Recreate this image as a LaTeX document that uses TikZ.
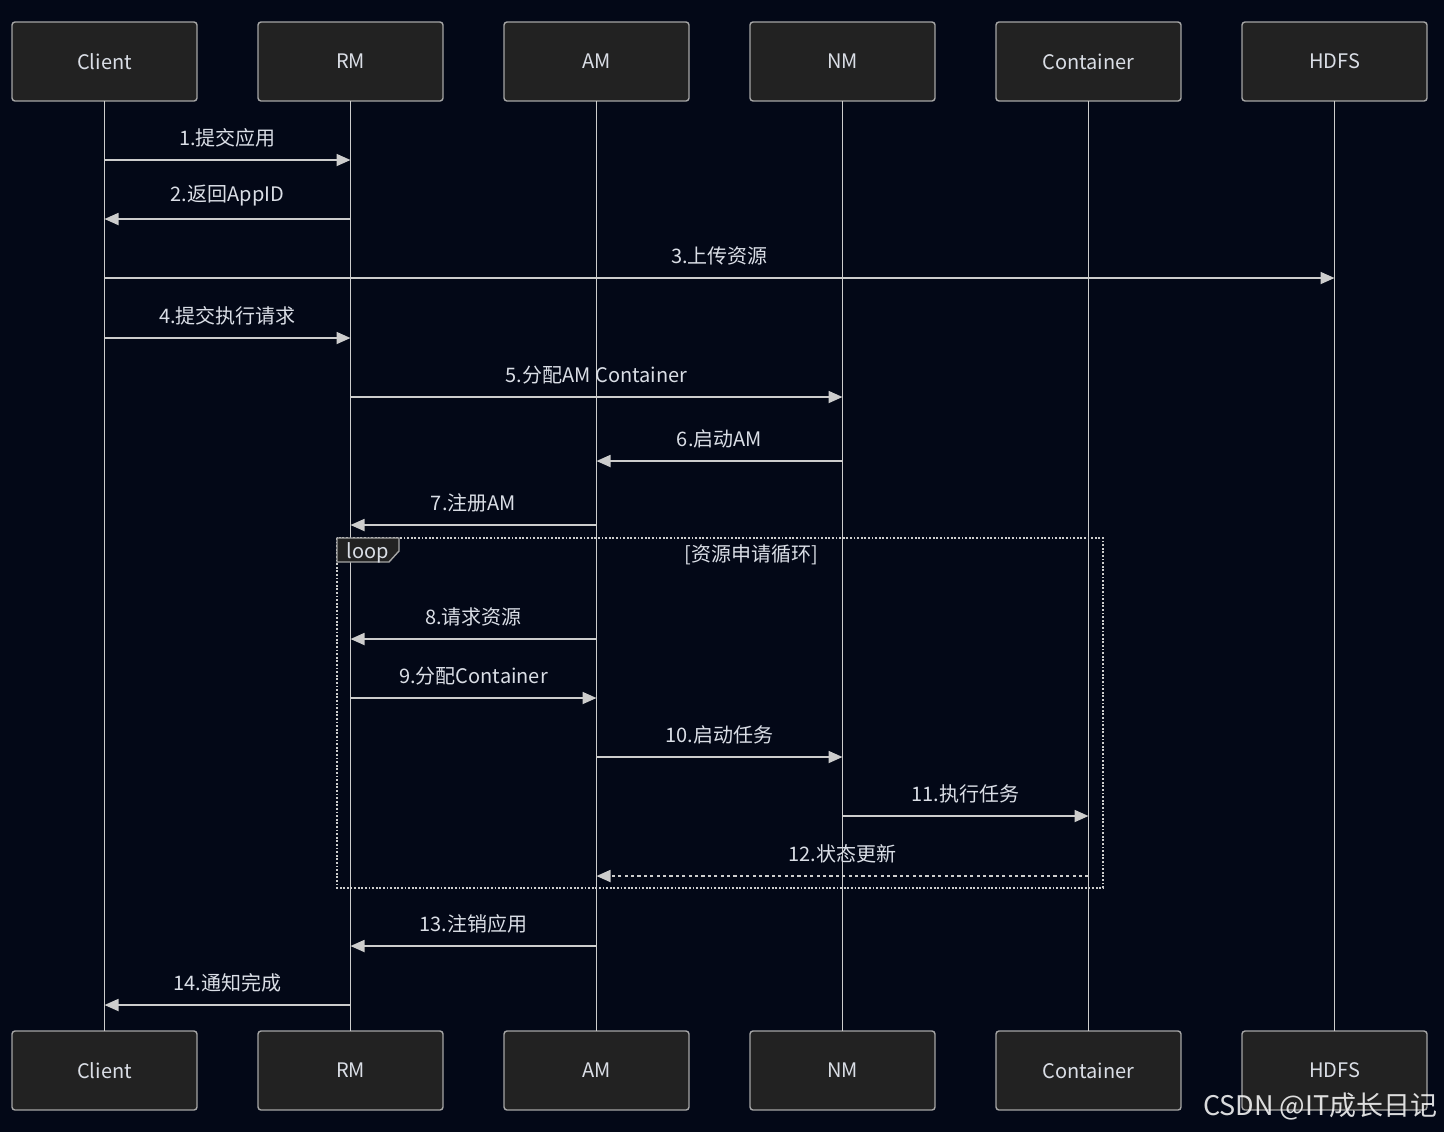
\documentclass[tikz,border=0pt]{standalone}
\usepackage{fontspec}
\setmainfont{Noto Sans CJK SC}
\usepackage{xcolor}
\usetikzlibrary{arrows.meta,positioning,calc}
\definecolor{bgnavy}{RGB}{3,8,23}
\definecolor{actorfill}{RGB}{34,34,34}
\definecolor{actorline}{RGB}{165,165,165}
\definecolor{lineclr}{RGB}{205,205,205}
\definecolor{msgtext}{RGB}{218,222,230}

\begin{document}
\begin{tikzpicture}[
  x=0.5pt,y=-0.5pt,
  node distance=30.5pt and 30.5pt,
  actor/.style={draw=actorline,fill=actorfill,rounded corners=1.5pt,line width=0.7pt,outer sep=0pt,
    minimum width=92.5pt,minimum height=39.5pt,text=msgtext,font=\fontsize{10}{12}\selectfont},
  life/.style={draw=lineclr,line width=0.9pt},
  msg/.style={draw=lineclr,line width=0.9pt,-{Triangle[length=7pt,width=6pt]},color=lineclr},
  reply/.style={msg,dash pattern=on 1.6pt off 1.6pt},
  lbl/.style={text=msgtext,inner sep=0pt,above=6pt,font=\fontsize{10}{12}\selectfont},
  loopbox/.style={draw=lineclr,line width=0.9pt,dash pattern=on 0.9pt off 0.9pt},
  looptab/.style={draw=actorline,fill=actorfill,line width=0.7pt}
]
\fill[bgnavy] (0,0) rectangle (1444,1132);
\useasboundingbox (0,0) rectangle (1444,1132);

% actors, top row
\node[actor] (client) at (104.5,61.5) {Client};
\node[actor,right=of client] (rm) {RM};
\node[actor,right=of rm] (am) {AM};
\node[actor,right=of am] (nm) {NM};
\node[actor,right=of nm] (cont) {Container};
\node[actor,right=of cont] (hdfs) {HDFS};

% actors, bottom row
\node[actor,below=465pt of client] (clientB) {Client};
\node[actor,right=of clientB] (rmB) {RM};
\node[actor,right=of rmB] (amB) {AM};
\node[actor,right=of amB] (nmB) {NM};
\node[actor,right=of nmB] (contB) {Container};
\node[actor,right=of contB] (hdfsB) {HDFS};

% lifelines
\foreach \a in {client,rm,am,nm,cont,hdfs}
  \draw[life] (\a) -- (\a B);

% messages
\draw[msg] (client |- 0,160) -- (rm |- 0,160) node[lbl,midway] {1.提交应用};
\draw[msg] (rm |- 0,219) -- (client |- 0,219) node[lbl,midway] {2.返回AppID};
\draw[msg] (client |- 0,278) -- (hdfs |- 0,278) node[lbl,midway] {3.上传资源};
\draw[msg] (client |- 0,338) -- (rm |- 0,338) node[lbl,midway] {4.提交执行请求};
\draw[msg] (rm |- 0,397) -- (nm |- 0,397) node[lbl,midway] {5.分配AM Container};
\draw[msg] (nm |- 0,461) -- (am |- 0,461) node[lbl,midway] {6.启动AM};
\draw[msg] (am |- 0,525) -- (rm |- 0,525) node[lbl,midway] {7.注册AM};

% loop frame
\draw[loopbox] (337,538) rectangle (1103,888);
\draw[looptab] (337,538) -- (399,538) -- (399,551) -- (389,562) -- (337,562) -- cycle;
\node[text=msgtext,inner sep=0pt,font=\fontsize{10}{12}\selectfont] (looptag) at (368,553) {loop};
\node[text=msgtext,inner sep=0pt,font=\fontsize{10}{12}\selectfont] (looptitle) at (751,555) {[资源申请循环]};

\draw[msg] (am |- 0,639) -- (rm |- 0,639) node[lbl,midway] {8.请求资源};
\draw[msg] (rm |- 0,698) -- (am |- 0,698) node[lbl,midway] {9.分配Container};
\draw[msg] (am |- 0,757) -- (nm |- 0,757) node[lbl,midway] {10.启动任务};
\draw[msg] (nm |- 0,816) -- (cont |- 0,816) node[lbl,midway] {11.执行任务};
\draw[reply] (cont |- 0,876) -- (am |- 0,876) node[lbl,midway] {12.状态更新};

\draw[msg] (am |- 0,946) -- (rm |- 0,946) node[lbl,midway] {13.注销应用};
\draw[msg] (rm |- 0,1005) -- (client |- 0,1005) node[lbl,midway] {14.通知完成};

% watermark
\node[anchor=east,inner sep=0pt,text=white!68,opacity=0.85,font=\fontsize{13.5}{16}\selectfont]
  (mark) at (1438,1106) {CSDN @IT成长日记};
\end{tikzpicture}
\end{document}
